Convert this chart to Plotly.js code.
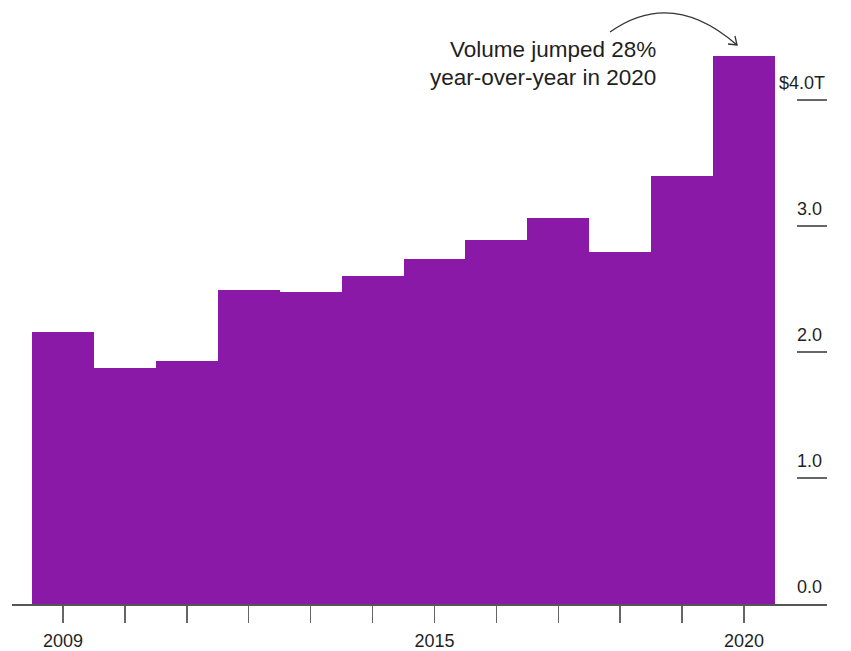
<!DOCTYPE html>
<html>
<head>
<meta charset="utf-8">
<script src="https://cdn.plot.ly/plotly-3.0.1.min.js"></script>
<style>html,body{margin:0;padding:0;background:#fff;}#chart{width:851px;height:651px;}</style>
</head>
<body>
<div id="chart"></div>
<script>
const years = [2009, 2010, 2011, 2012, 2013, 2014, 2015, 2016, 2017, 2018, 2019, 2020];
const volume = [2.16, 1.87, 1.93, 2.49, 2.48, 2.60, 2.74, 2.89, 3.06, 2.79, 3.40, 4.35];
const xTickLabels = ["2009", "", "", "", "", "", "2015", "", "", "", "", "2020"];
const yTickVals = [0, 1, 2, 3, 4];
const yTickLabels = ["0.0", "1.0", "2.0", "3.0", "$4.0T"];
const noteLines = ["Volume jumped 28%", "year-over-year in 2020"];

const W = 851, H = 651;
const M = {l: 12, r: 24, t: 20, b: 47};
const pw = W - M.l - M.r, ph = H - M.t - M.b;
const px = x => (x - M.l) / pw;
const py = y => (H - M.b - y) / ph;

const textColor = '#1f1f1f';
const font = 'Liberation Sans, Arial, sans-serif';

const shapes = [];
yTickVals.forEach(v => {
  if (v === 0) return;
  shapes.push({type: 'line', xref: 'paper', yref: 'y', x0: px(797), x1: px(827), y0: v, y1: v,
    line: {color: '#333', width: 1.5}});
});
// curved arrow
shapes.push({type: 'path', xref: 'paper', yref: 'paper',
  path: `M ${px(610)},${py(32)} Q ${px(672)},${py(-12)} ${px(737)},${py(45)}`,
  line: {color: '#333', width: 1.3}});
shapes.push({type: 'path', xref: 'paper', yref: 'paper',
  path: `M ${px(735)},${py(36)} L ${px(737)},${py(45)} L ${px(728)},${py(44)}`,
  line: {color: '#333', width: 1.3}});

const annotations = yTickVals.map((v, i) => ({
  xref: 'paper', yref: 'y', x: i === 4 ? px(827) : px(824), y: v, xanchor: 'right', yanchor: 'middle',
  yshift: 17, text: yTickLabels[i], showarrow: false,
  font: {family: font, size: 18, color: textColor}
}));
[50, 77].forEach((yy, i) => annotations.push({
  xref: 'paper', yref: 'paper', x: px(658), y: py(yy), xanchor: 'right', yanchor: 'middle', align: 'right',
  text: noteLines[i], showarrow: false,
  font: {family: font, size: 22.5, color: textColor}
}));

Plotly.newPlot('chart', [{
  type: 'bar', x: years, y: volume,
  marker: {color: '#8a19a8', line: {width: 0}},
  hoverinfo: 'skip'
}], {
  width: W, height: H,
  margin: M,
  paper_bgcolor: '#fff', plot_bgcolor: '#fff',
  bargap: 0,
  showlegend: false,
  xaxis: {
    range: [2008.176, 2021.341],
    tickvals: years, ticktext: xTickLabels,
    ticks: 'outside', ticklen: 17, tickwidth: 1.5, tickcolor: '#666',
    ticklabelstandoff: 3,
    showline: true, linecolor: '#555', linewidth: 1.5,
    showgrid: false, zeroline: false,
    tickfont: {family: font, size: 18, color: textColor}
  },
  yaxis: {
    range: [0, 4.635],
    showticklabels: false, ticks: '', showgrid: false, zeroline: false, showline: false
  },
  shapes: shapes,
  annotations: annotations
}, {staticPlot: true});
</script>
</body>
</html>
